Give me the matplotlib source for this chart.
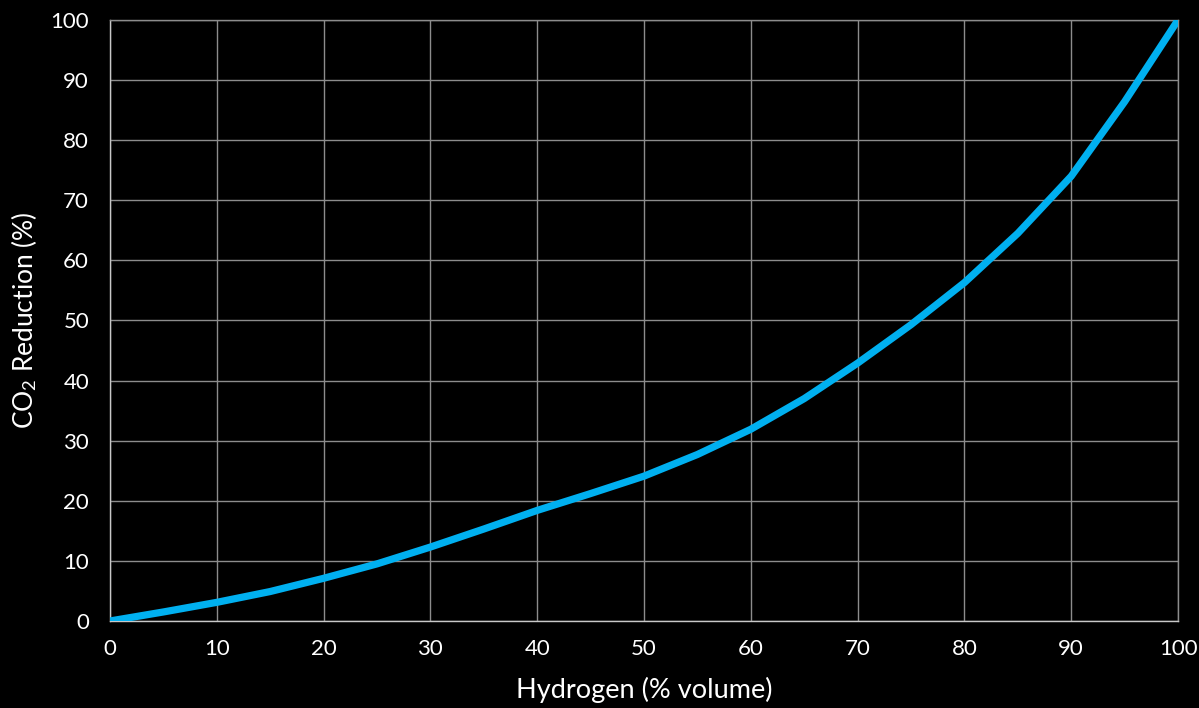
import matplotlib.pyplot as plt

# hydrogen share (% volume) and CO2 reduction (%)
hydrogen = [0, 5, 10, 15, 20, 25, 30, 35, 40, 45, 50, 55, 60, 65, 70, 75, 80, 85, 90, 95, 100]
co2_reduction = [0, 1.5, 3.1, 4.9, 7.1, 9.5, 12.3, 15.3, 18.4, 21.2, 24.1, 27.7, 31.9, 37.0, 42.9, 49.3, 56.3, 64.5, 74.0, 86.4, 100]

ticks = [0, 10, 20, 30, 40, 50, 60, 70, 80, 90, 100]

plt.rcParams['font.family'] = ['Lato', 'DejaVu Sans']
plt.rcParams['mathtext.fontset'] = 'custom'
plt.rcParams['mathtext.rm'] = 'Lato'
plt.rcParams['mathtext.it'] = 'Lato:italic'

fig = plt.figure(figsize=(11.99, 7.08), dpi=100, facecolor='black')
ax = fig.add_axes([0.0917, 0.1229, 0.8908, 0.8489], facecolor='black')

ax.plot(hydrogen, co2_reduction, color='#00b0f0', linewidth=5.2,
        solid_capstyle='round', solid_joinstyle='round', zorder=3)

ax.set_xlim(0, 100)
ax.set_ylim(0, 100)
ax.set_xticks(ticks)
ax.set_yticks(ticks)
ax.grid(True, color='#8c8c8c', linewidth=1.0)
ax.set_axisbelow(True)
for side in ['left', 'right', 'top', 'bottom']:
    ax.spines[side].set_color('#8c8c8c')
    ax.spines[side].set_linewidth(1.0)
ax.spines['left'].set_color('#c8c8c8')
ax.spines['bottom'].set_color('#c8c8c8')

ax.tick_params(colors='white', labelsize=16, length=0)
ax.tick_params(axis='x', pad=13)
ax.tick_params(axis='y', pad=15)
ax.set_xlabel('Hydrogen (% volume)', color='white', fontsize=19.5, labelpad=13)
ax.set_ylabel('CO$_2$ Reduction (%)', color='white', fontsize=19, labelpad=8)

fig.savefig('out.png', dpi=100, facecolor='black')
